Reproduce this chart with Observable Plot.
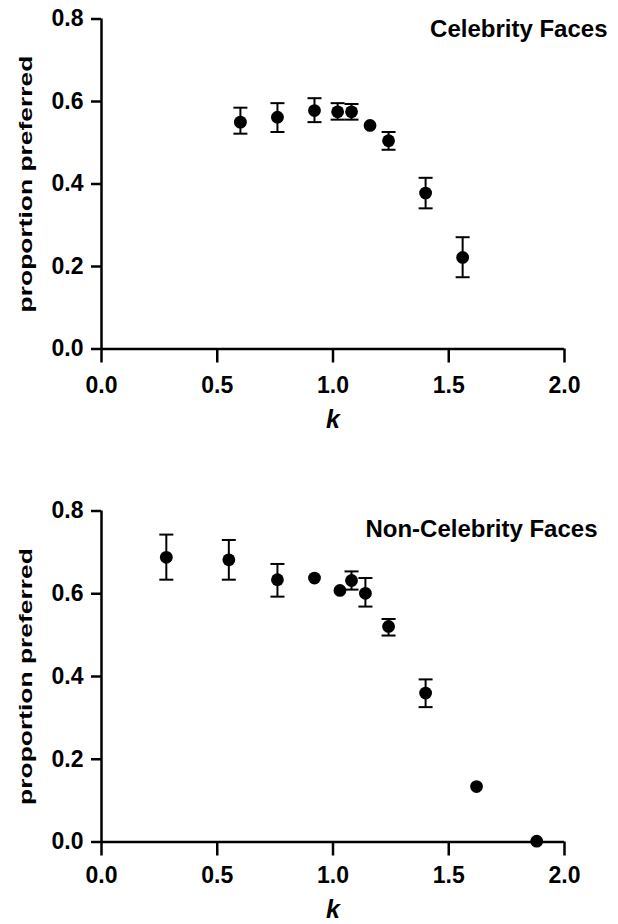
<!DOCTYPE html>
<html>
<head>
<meta charset="utf-8">
<script src="https://cdn.jsdelivr.net/npm/d3@7"></script>
<script src="https://cdn.jsdelivr.net/npm/@observablehq/plot@0.6"></script>
<style>
  html, body { margin: 0; padding: 0; background: #fff; }
  svg { display: block; }
</style>
</head>
<body>
<div id="chart"></div>
<script>
// ---- Data ----
const xTicks = [0, 0.5, 1.0, 1.5, 2.0];
const yTicks = [0, 0.2, 0.4, 0.6, 0.8];
const xLabel = "k";
const yLabel = "proportion preferred";

const celebTitle = "Celebrity Faces";
const celebK  = [0.60, 0.76, 0.92, 1.02, 1.08, 1.16, 1.24, 1.40, 1.56];
const celebP  = [0.550, 0.562, 0.578, 0.575, 0.575, 0.542, 0.505, 0.378, 0.222];
const celebLo = [0.522, 0.526, 0.550, 0.556, 0.556, null, 0.483, 0.341, 0.174];
const celebHi = [0.585, 0.596, 0.608, 0.596, 0.594, null, 0.526, 0.415, 0.271];

const nonTitle = "Non-Celebrity Faces";
const nonK  = [0.28, 0.55, 0.76, 0.92, 1.03, 1.08, 1.14, 1.24, 1.40, 1.62, 1.88];
const nonP  = [0.688, 0.682, 0.634, 0.638, 0.608, 0.632, 0.601, 0.521, 0.360, 0.134, 0.002];
const nonLo = [0.634, 0.634, 0.593, null, null, 0.610, 0.569, 0.499, 0.326, null, null];
const nonHi = [0.743, 0.730, 0.672, null, null, 0.654, 0.638, 0.539, 0.393, null, null];

const toRows = (K, P, Lo, Hi) => K.map((k, i) => ({k, p: P[i], lo: Lo[i], hi: Hi[i]}));

const capSymbol = {
  draw(context) {
    context.moveTo(-7, 0);
    context.lineTo(7, 0);
  }
};

const FONT = "'Liberation Sans', Arial, Helvetica, sans-serif";
const Y_LABEL_LEN = 257;

function panel({rows, title, marginTop, marginBottom, titleDx, titleDy, kDy, xPad}) {
  const withErr = rows.filter(d => d.lo != null && d.hi != null);
  return Plot.plot({
    width: 618,
    height: 462,
    marginLeft: 101,
    marginRight: 54,
    marginTop,
    marginBottom,
    style: {fontFamily: FONT, color: "#000", background: "#fff", overflow: "visible"},
    x: {domain: [0, 2]},
    y: {domain: [0, 0.8]},
    marks: [
      Plot.axisX({ticks: xTicks, tickFormat: d3.format(".1f"), tickSize: 14, tickPadding: xPad,
                  fontSize: 23, fontWeight: "bold", strokeWidth: 2.5, label: null}),
      Plot.axisY({ticks: yTicks, tickFormat: d3.format(".1f"), tickSize: 10, tickPadding: 8,
                  fontSize: 23, fontWeight: "bold", strokeWidth: 2.5, label: null}),
      Plot.ruleY([0], {strokeWidth: 2.5}),
      Plot.ruleX([0], {y1: 0, y2: 0.8, strokeWidth: 2.5}),
      Plot.ruleX(withErr, {x: "k", y1: "lo", y2: "hi", strokeWidth: 2}),
      Plot.dot(withErr, {x: "k", y: "lo", symbol: capSymbol, stroke: "black", fill: "none", strokeWidth: 2}),
      Plot.dot(withErr, {x: "k", y: "hi", symbol: capSymbol, stroke: "black", fill: "none", strokeWidth: 2}),
      Plot.dot(rows, {x: "k", y: "p", r: 6.4, fill: "black", stroke: "none"}),
      Plot.text([title], {frameAnchor: "top-right", textAnchor: "end", lineAnchor: "middle",
                          dx: titleDx, dy: titleDy, fontSize: 24, fontWeight: "bold"}),
      Plot.text([xLabel], {frameAnchor: "bottom", textAnchor: "middle", lineAnchor: "middle", dy: kDy,
                           fontSize: 25, fontWeight: "bold", fontStyle: "italic"}),
      Plot.text([yLabel], {frameAnchor: "left", textAnchor: "middle", rotate: -90, lineAnchor: "middle", dx: -75,
                           fontSize: 18.5, fontWeight: "bold"})
    ]
  });
}

function stretchYLabel(svg) {
  d3.select(svg).selectAll("text")
    .filter(function() { return this.textContent === yLabel; })
    .each(function() {
      this.setAttribute("text-anchor", "middle");
      const len = this.getComputedTextLength();
      if (!len) return;
      const sx = Y_LABEL_LEN / len;
      const t = this.getAttribute("transform") || "";
      this.setAttribute("transform", t + ` scale(${sx},1)`);
    });
}

const chartEl = document.getElementById("chart");
const panelTop = panel({
  rows: toRows(celebK, celebP, celebLo, celebHi), title: celebTitle,
  marginTop: 18.5, marginBottom: 113.5, titleDx: 43, titleDy: 10.5, kDy: 70.5, xPad: 14
});
const panelBottom = panel({
  rows: toRows(nonK, nonP, nonLo, nonHi), title: nonTitle,
  marginTop: 48.5, marginBottom: 82.5, titleDx: 33, titleDy: 18.5, kDy: 67.5, xPad: 11
});
chartEl.appendChild(panelTop);
chartEl.appendChild(panelBottom);
stretchYLabel(panelTop);
stretchYLabel(panelBottom);
</script>
</body>
</html>
